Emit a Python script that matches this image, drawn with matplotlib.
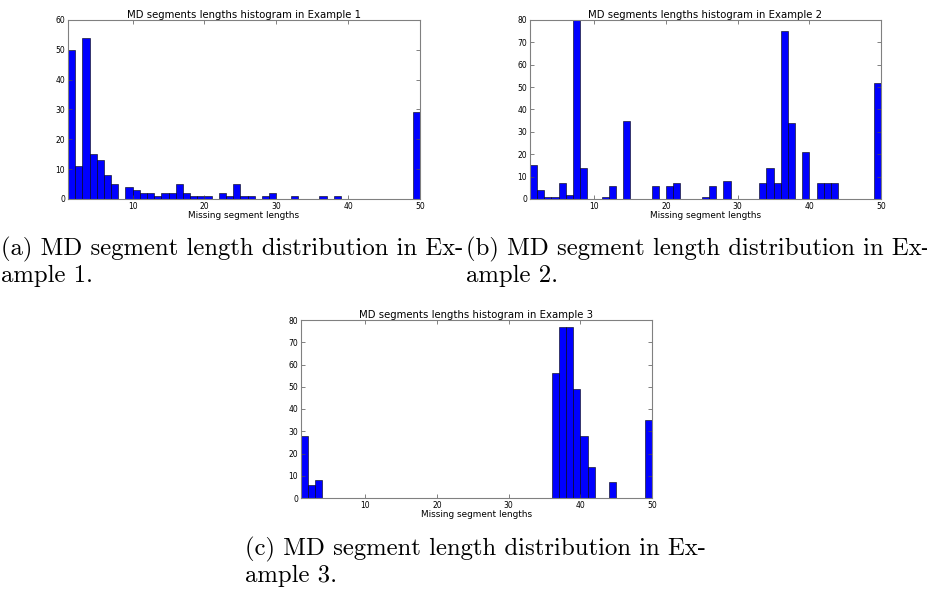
import numpy as np
import matplotlib
matplotlib.use("Agg")
import matplotlib.pyplot as plt

# histogram bins start at 1,2,...,49 (width 1, last bin ends at 50)
bin_starts = list(range(1, 50))

counts1 = [50, 11, 54, 15, 13, 8, 5, 0, 4, 3,
           2, 2, 1, 2, 2, 5, 2, 1, 1, 1,
           0, 2, 1, 5, 1, 1, 0, 1, 2, 0,
           0, 1, 0, 0, 0, 1, 0, 1, 0, 0,
           0, 0, 0, 0, 0, 0, 0, 0, 29]
counts2 = [15, 4, 1, 1, 7, 2, 80, 14, 0, 0,
           1, 6, 0, 35, 0, 0, 0, 6, 0, 6,
           7, 0, 0, 0, 1, 6, 0, 8, 0, 0,
           0, 0, 7, 14, 7, 75, 34, 0, 21, 0,
           7, 7, 7, 0, 0, 0, 0, 0, 52]
counts3 = [28, 6, 8, 0, 0, 0, 0, 0, 0, 0,
           0, 0, 0, 0, 0, 0, 0, 0, 0, 0,
           0, 0, 0, 0, 0, 0, 0, 0, 0, 0,
           0, 0, 0, 0, 0, 56, 77, 77, 49, 28,
           14, 0, 0, 7, 0, 0, 0, 0, 35]

titles = ["MD segments lengths histogram in Example 1",
          "MD segments lengths histogram in Example 2",
          "MD segments lengths histogram in Example 3"]
ymax = [60, 80, 80]
captions = [("(a) MD segment length distribution in Ex-", "ample 1."),
            ("(b) MD segment length distribution in Ex-", "ample 2."),
            ("(c) MD segment length distribution in Ex-", "ample 3.")]

W, H = 928, 595
fig = plt.figure(figsize=(W / 100, H / 100), dpi=100)


def px_axes(l, t, r, b):
    return fig.add_axes([l / W, 1 - b / H, (r - l) / W, (b - t) / H])


axes = [px_axes(68, 20, 420, 199),
        px_axes(530, 20, 881, 199),
        px_axes(301, 320, 652, 498)]

for ax, counts, title, top in zip(axes, [counts1, counts2, counts3], titles, ymax):
    ax.bar(bin_starts, counts, width=1, align='edge', color='#0000ff',
           edgecolor='black', linewidth=0.4)
    ax.set_xlim(1, 50)
    ax.set_ylim(0, top)
    ax.set_xticks([10, 20, 30, 40, 50])
    ax.set_yticks(np.arange(0, top + 1, 10))
    ax.tick_params(direction='in', top=True, right=True, labelsize=5.5,
                   length=3, width=0.5, pad=2, colors='0.3', labelcolor='black')
    for s in ax.spines.values():
        s.set_color('0.5')
        s.set_linewidth(0.8)
    ax.set_title(title, fontsize=7.3, pad=1.5)
    ax.set_xlabel("Missing segment lengths", fontsize=6.4, labelpad=0)

# sub-figure captions
cap_pos = [(1, 249), (466, 249), (245, 549)]
for (x, y), (l1, l2) in zip(cap_pos, captions):
    fig.text(x / W, 1 - y / H, l1, fontsize=17.8, family='cmr10', va='center')
    fig.text(x / W, 1 - (y + 27) / H, l2, fontsize=17.8, family='cmr10', va='center')

fig.savefig("out.png", dpi=100)
